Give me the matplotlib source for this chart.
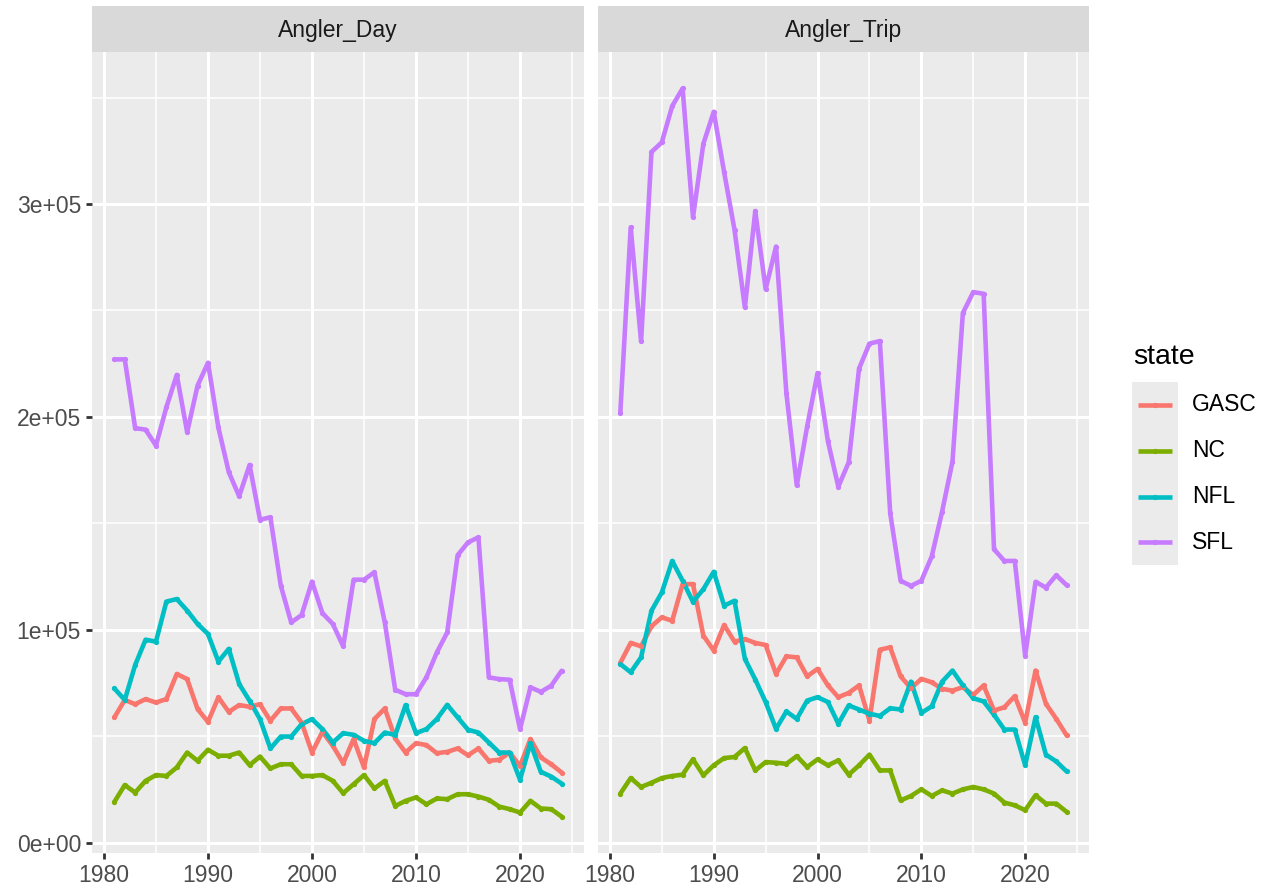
import numpy as np
import matplotlib
matplotlib.use("Agg")
import matplotlib.pyplot as plt
from matplotlib.ticker import FixedLocator, FuncFormatter

plt.rcParams["font.family"] = ["Liberation Sans", "DejaVu Sans"]

# data (thousands)
years = list(range(1981, 2025))
states = ["GASC", "NC", "NFL", "SFL"]
colors = ["#F8766D", "#7CAE00", "#00BFC4", "#C77CFF"]
panels = ["Angler_Day", "Angler_Trip"]

day_gasc = [58.8, 67, 65, 67.4, 65.8, 67.4, 79.2, 76.8, 62.7, 56.7,
            68.2, 61.4, 64.6, 63.8, 65, 57.2, 63, 63, 56.4, 42.3,
            52, 45.5, 37.3, 48.6, 35.3, 58, 63, 48.9, 42.3, 46.7,
            45.8, 42, 42.6, 44.2, 41, 44.2, 38.4, 38.9, 42.3, 36,
            48.6, 40, 36.8, 32.9]
day_nc = [19.1, 27, 23.5, 29, 31.7, 31.3, 35.3, 42.3, 38.4, 43.6,
          40.8, 40.8, 42.3, 36.4, 40.4, 34.8, 36.8, 36.8, 31.3, 31.3,
          31.7, 29, 23.2, 27.4, 31.7, 25.4, 29, 17.2, 19.6, 21.2,
          18, 20.7, 20.4, 22.7, 22.7, 21.6, 20.1, 16.9, 15.7, 14.1,
          19.6, 16, 15.7, 12.2]
day_nfl = [72.4, 67, 83.4, 95.3, 94.4, 113.2, 114.4, 109, 102.7, 98,
           85, 91, 74.5, 66.6, 58, 44.2, 49.8, 49.8, 55.6, 58,
           53.3, 47, 51.4, 50.6, 47.8, 46.7, 51.7, 50.5, 64.6, 51.4,
           53.3, 58, 64.7, 58.8, 53, 51.7, 47, 42.3, 42.3, 29.5,
           46.7, 33.2, 31, 27.7]
day_sfl = [227, 227, 194.7, 194, 186.5, 204.5, 219.7, 192.8, 214.7, 225.4,
           195, 174, 162.7, 177.4, 151.7, 152.8, 120.7, 103.4, 106.9, 122.6,
           107.8, 102.7, 92.2, 123.5, 123.5, 127, 103.4, 71.8, 69.7, 69.7,
           77.6, 89.3, 98.7, 135, 141, 143.4, 77.6, 76.8, 76.5, 53.3,
           72.9, 70.8, 73.7, 80.7]

trip_gasc = [84.4, 93.8, 92.2, 101.6, 105.8, 104.2, 121.4, 121.4, 97.2, 90.2,
             102.2, 94.4, 95.6, 93.8, 92.8, 79.2, 87.5, 87, 78.1, 81.6,
             73.8, 68.3, 70.3, 73.8, 57.3, 90.6, 91.7, 78.1, 72.5, 76.9,
             75.3, 72.2, 71.4, 73, 69.4, 73.8, 62, 63.6, 68.8, 56.3,
             80.8, 65.2, 58.1, 50.3]
trip_nc = [23, 30.3, 26.1, 28.1, 30.3, 31.3, 31.9, 39.1, 31.6, 36.3,
           39.7, 40.2, 44.4, 33.9, 37.8, 37.5, 37, 40.6, 35.5, 39.1,
           36.3, 38.6, 31.9, 36.3, 41.3, 33.9, 33.9, 19.8, 21.9, 25,
           21.9, 24.5, 23, 25, 26.1, 25, 23, 18.8, 17.5, 15.2,
           22.2, 18.3, 18.3, 14.4]
trip_nfl = [83.9, 80, 87, 108.9, 117.5, 132.3, 123, 113.1, 119, 127.2,
            111.3, 113.6, 86.3, 76.6, 66, 53.4, 61.6, 58.1, 66.7, 68.3,
            66, 55.8, 64.4, 62.5, 60.5, 59.5, 63.1, 62.5, 75.6, 60.9,
            64, 75.6, 80.8, 73.8, 67.8, 66.3, 60, 53.1, 53.1, 36.3,
            58.9, 41.3, 38.1, 33.4]
trip_sfl = [202, 289, 235.4, 324.4, 329, 346, 354.3, 293.8, 328.3, 343.3,
            315, 287.9, 251.4, 296.7, 260, 280, 211, 167.8, 195.5, 220.6,
            188.5, 167.2, 178.6, 222.7, 234.4, 235.6, 154.7, 123, 120.6, 123,
            134.4, 155.5, 179, 248.8, 258.6, 257.8, 137.8, 132.3, 132.3, 87.8,
            122.5, 119.8, 125.6, 120.9]

series = {
    "Angler_Day": [day_gasc, day_nc, day_nfl, day_sfl],
    "Angler_Trip": [trip_gasc, trip_nc, trip_nfl, trip_sfl],
}

W, H = 1273, 893
fig = plt.figure(figsize=(W / 100, H / 100), dpi=100)

PANEL_BG = "#EBEBEB"
STRIP_BG = "#D9D9D9"
TXT = "#4D4D4D"
LW = 3.3
MS = 3.8


def fx(px):
    return px / W


def fy(px):
    return 1 - px / H


panel_x = [(92, 584), (598, 1089)]
top, bottom, strip_top = 52, 853, 6

all_vals = [v for p in series.values() for s in p for v in s]
ymin, ymax = min(all_vals) * 1000, max(all_vals) * 1000
yspan = ymax - ymin
xmin, xmax = min(years), max(years)
xspan = xmax - xmin

for i, name in enumerate(panels):
    x0, x1 = panel_x[i]
    ax = fig.add_axes([fx(x0), fy(bottom), fx(x1 - x0), (bottom - top) / H])
    ax.set_facecolor(PANEL_BG)
    for sp in ax.spines.values():
        sp.set_visible(False)

    for vals, col in zip(series[name], colors):
        y = np.array(vals) * 1000
        ax.plot(years, y, color=col, lw=LW, solid_joinstyle="round",
                solid_capstyle="round", zorder=3)
        ax.plot(years, y, "o", color=col, ms=MS, mew=0, zorder=4)

    ax.set_xlim(xmin - 0.05 * xspan, xmax + 0.05 * xspan)
    ax.set_ylim(ymin - 0.05 * yspan, ymax + 0.05 * yspan)

    ax.xaxis.set_major_locator(FixedLocator([1980, 1990, 2000, 2010, 2020]))
    ax.xaxis.set_minor_locator(FixedLocator([1985, 1995, 2005, 2015, 2025]))
    ax.yaxis.set_major_locator(FixedLocator([0, 1e5, 2e5, 3e5]))
    ax.yaxis.set_minor_locator(FixedLocator([5e4, 1.5e5, 2.5e5, 3.5e5]))
    ax.yaxis.set_major_formatter(FuncFormatter(lambda v, p: "%.0e" % v))

    ax.grid(which="major", color="white", lw=2.2)
    ax.grid(which="minor", color="white", lw=1.1)
    ax.set_axisbelow(True)

    ax.tick_params(which="minor", length=0)
    ax.tick_params(which="major", length=4.4, width=2.0, color="#333333",
                   labelsize=16.5, labelcolor=TXT, pad=3.5)
    if i > 0:
        ax.tick_params(axis="y", labelleft=False, length=0)

    # facet strip
    sax = fig.add_axes([fx(x0), fy(top), fx(x1 - x0), (top - strip_top) / H])
    sax.set_facecolor(STRIP_BG)
    sax.set_xticks([])
    sax.set_yticks([])
    for sp in sax.spines.values():
        sp.set_visible(False)
    sax.text(0.5, 0.47, name, ha="center", va="center", fontsize=16.5,
             color="#1A1A1A", transform=sax.transAxes)

# legend
key_x0, key_x1 = 1132, 1178
key_top, key_h = 382, 45.8
lax = fig.add_axes([fx(key_x0), fy(key_top + key_h * len(states)),
                    fx(key_x1 - key_x0), key_h * len(states) / H])
lax.set_facecolor(PANEL_BG)
lax.set_xlim(0, 1)
lax.set_ylim(len(states), 0)
lax.set_xticks([])
lax.set_yticks([])
for sp in lax.spines.values():
    sp.set_visible(False)
for k, (st, col) in enumerate(zip(states, colors)):
    yk = k + 0.5
    lax.plot([0.12, 0.88], [yk, yk], color=col, lw=LW, solid_capstyle="butt")
    lax.plot([0.5], [yk], "o", color=col, ms=MS, mew=0)
    fig.text(fx(1192), fy(key_top + key_h * yk), st, ha="left", va="center",
             fontsize=16.5, color="black")
fig.text(fx(1133), fy(357), "state", ha="left", va="center", fontsize=20.5,
         color="black")

fig.savefig("out.png", dpi=100, facecolor="white")
